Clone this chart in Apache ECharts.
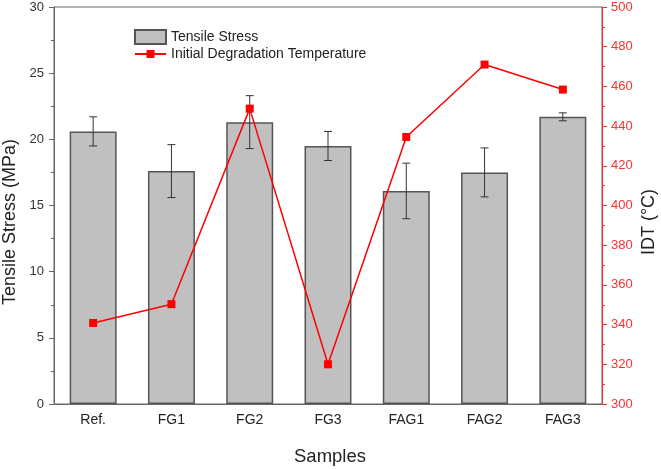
<!DOCTYPE html>
<html>
<head>
<meta charset="utf-8">
<script src="https://cdn.jsdelivr.net/npm/echarts@6/dist/echarts.min.js"></script>
<style>
html,body{margin:0;padding:0;background:#fff;}
#chart{width:661px;height:469px;}
</style>
</head>
<body>
<div id="chart"></div>
<script>
const categories = ['Ref.', 'FG1', 'FG2', 'FG3', 'FAG1', 'FAG2', 'FAG3'];
const tensileStress = [20.6, 17.6, 21.3, 19.5, 16.1, 17.5, 21.7];
const tensileError = [1.1, 2.0, 2.0, 1.1, 2.1, 1.85, 0.3];
const idt = [340.8, 350.3, 448.8, 320.0, 434.5, 471.0, 458.4];
const leftTicks = {min: 0, max: 30, interval: 5};
const rightTicks = {min: 300, max: 500, interval: 20};

const FONT = 'Liberation Sans, Arial, sans-serif';
const chart = echarts.init(document.getElementById('chart'), null, {renderer: 'canvas'});

const errData = categories.map((c, i) => [i, tensileStress[i] - tensileError[i], tensileStress[i] + tensileError[i]]);

const option = {
  animation: false,
  backgroundColor: '#fff',
  textStyle: {fontFamily: FONT},
  grid: {left: 54, right: 59, top: 7, bottom: 65, show: true, borderColor: '#666', borderWidth: 1, backgroundColor: 'transparent'},
  legend: [
    {
      orient: 'vertical', left: 134, top: 29, padding: 0, itemWidth: 31, itemHeight: 14,
      textStyle: {fontFamily: FONT, fontSize: 14, color: '#222'},
      data: [{name: 'Tensile Stress', icon: 'rect'}]
    },
    {
      orient: 'vertical', left: 134, top: 47, padding: 0, itemWidth: 31, itemHeight: 10,
      textStyle: {fontFamily: FONT, fontSize: 14, color: '#222'},
      data: [{name: 'Initial Degradation Temperature'}]
    }
  ],
  xAxis: [
    {
      type: 'category', data: categories, position: 'bottom',
      axisLine: {lineStyle: {color: '#666', width: 1}},
      axisTick: {alignWithLabel: true, length: 5, lineStyle: {color: '#666'}},
      axisLabel: {color: '#222', fontSize: 14, margin: 9, fontFamily: FONT},
      splitLine: {show: false}
    },
    {
      type: 'category', data: categories, position: 'bottom',
      axisLine: {show: false},
      axisTick: {alignWithLabel: false, length: 3, lineStyle: {color: '#666'}},
      axisLabel: {show: false},
      splitLine: {show: false}
    }
  ],
  yAxis: [
    {
      type: 'value', position: 'left', min: leftTicks.min, max: leftTicks.max, interval: leftTicks.interval,
      axisLine: {show: true, lineStyle: {color: '#666', width: 1}},
      axisTick: {show: true, length: 5, lineStyle: {color: '#666'}},
      minorTick: {show: true, splitNumber: 2, length: 3, lineStyle: {color: '#666'}},
      axisLabel: {color: '#333', fontSize: 13, margin: 10, fontFamily: FONT},
      splitLine: {show: false}
    },
    {
      type: 'value', position: 'right', min: rightTicks.min, max: rightTicks.max, interval: rightTicks.interval,
      axisLine: {show: true, lineStyle: {color: '#ff2a2a', width: 1}},
      axisTick: {show: true, length: 5, lineStyle: {color: '#ff2a2a'}},
      minorTick: {show: true, splitNumber: 2, length: 3, lineStyle: {color: '#ff2a2a'}},
      axisLabel: {color: '#ff3030', fontSize: 13, margin: 9, fontFamily: FONT},
      splitLine: {show: false}
    }
  ],
  graphic: [
    {type: 'text', x: 10, y: 222, rotation: Math.PI / 2,
     style: {text: 'Tensile Stress (MPa)', fill: '#222', font: '18px ' + FONT, textAlign: 'center', textVerticalAlign: 'middle'}},
    {type: 'text', x: 649, y: 222, rotation: Math.PI / 2,
     style: {text: 'IDT (°C)', fill: '#222', font: '18px ' + FONT, textAlign: 'center', textVerticalAlign: 'middle'}},
    {type: 'text', x: 330, y: 457,
     style: {text: 'Samples', fill: '#222', font: '18.5px ' + FONT, textAlign: 'center', textVerticalAlign: 'middle'}}
  ],
  series: [
    {
      name: 'Tensile Stress', type: 'bar', xAxisIndex: 0, yAxisIndex: 0,
      data: tensileStress, barWidth: '60%',
      itemStyle: {color: '#c0c0c0', borderColor: '#555', borderWidth: 1.5}
    },
    {
      name: 'err', type: 'custom', xAxisIndex: 0, yAxisIndex: 0,
      data: errData, z: 3,
      renderItem: function (params, api) {
        const x = api.value(0);
        const lo = api.coord([x, api.value(1)]);
        const hi = api.coord([x, api.value(2)]);
        const hw = 4;
        const st = {stroke: '#333', lineWidth: 1};
        return {type: 'group', children: [
          {type: 'line', shape: {x1: lo[0], y1: lo[1], x2: hi[0], y2: hi[1]}, style: st},
          {type: 'line', shape: {x1: lo[0] - hw, y1: lo[1], x2: lo[0] + hw, y2: lo[1]}, style: st},
          {type: 'line', shape: {x1: hi[0] - hw, y1: hi[1], x2: hi[0] + hw, y2: hi[1]}, style: st}
        ]};
      }
    },
    {
      name: 'Initial Degradation Temperature', type: 'line', xAxisIndex: 0, yAxisIndex: 1,
      data: idt, z: 5,
      symbol: 'rect', symbolSize: 8,
      lineStyle: {color: '#ff0000', width: 1.5},
      itemStyle: {color: '#ff0000'}
    }
  ]
};
chart.setOption(option);
</script>
</body>
</html>
